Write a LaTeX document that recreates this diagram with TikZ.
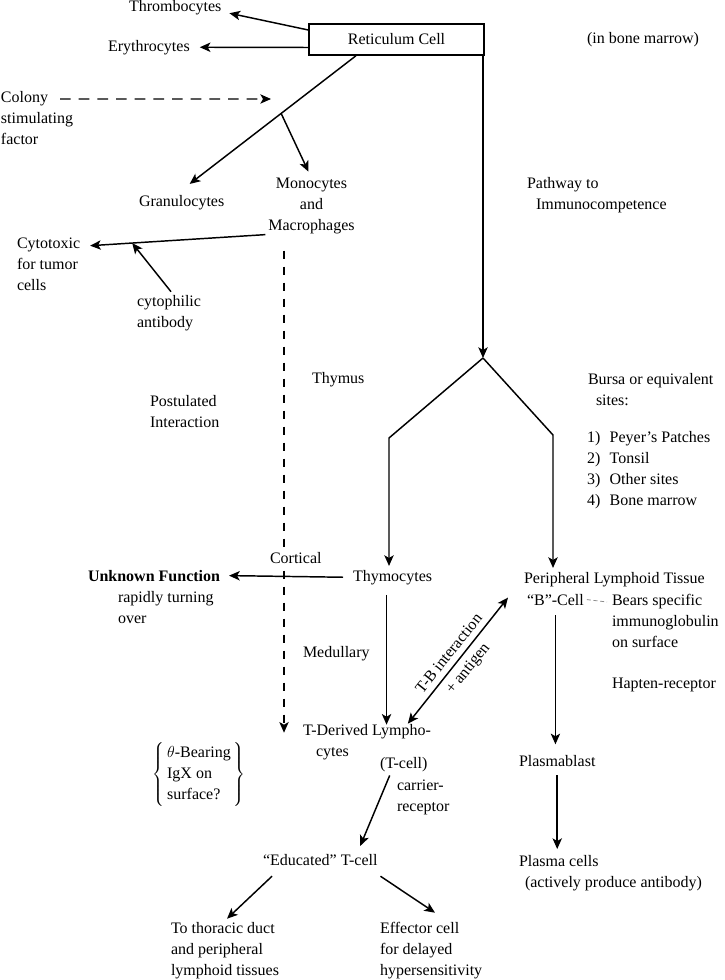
\documentclass[tikz,border=0pt]{standalone}
\usepackage{fontspec}
\setmainfont{Liberation Serif}
\usetikzlibrary{arrows.meta}
\tikzset{
  txt/.style   = {inner sep=0pt, outer sep=0pt, align=left},
  ctr/.style   = {inner sep=0pt, outer sep=0pt, align=center},
  cellbox/.style = {draw, line width=1.1pt, minimum width=131.25pt, minimum height=23.25pt, inner sep=0pt},
  ar/.style    = {-{Stealth[length=8pt,width=7pt,inset=2pt]}, line width=1.1pt},
  dar/.style   = {ar, line width=0.9pt, dash pattern=on 6pt off 6pt},
  cdar/.style  = {ar, line width=0.9pt, dash pattern=on 8pt off 6pt},
  dbl/.style   = {{Stealth[length=8pt,width=7pt,inset=2pt]}-{Stealth[length=8pt,width=7pt,inset=2pt]}, line width=1.1pt},
  tie/.style   = {line width=0.6pt, draw=black!45, dash pattern=on 3pt off 2pt},
}
\begin{document}
\begin{tikzpicture}[x=0.75pt, y=-0.75pt, font=\fontsize{12pt}{15.75pt}\selectfont]
  \useasboundingbox (0,0) rectangle (724,980);

  % bone marrow
  \node[cellbox] (reti) at (396.5,39.5) {Reticulum Cell};
  \node[txt, anchor=mid west] (thromb) at (129,8) {Thrombocytes};
  \node[txt, anchor=mid west] (ery) at (108,48) {Erythrocytes};
  \node[txt, anchor=mid west] (marrow) at (587,40) {(in bone marrow)};
  \node[txt, anchor=north west] (csf) at (1,91.7) {Colony\\stimulating\\factor};
  \node[txt, anchor=mid west] (gran) at (139,203) {Granulocytes};
  \node[ctr, anchor=north] (mono) at (311.5,177.7) {Monocytes\\and\\Macrophages};
  \node[txt, anchor=north west] (cyto) at (17,237.7) {Cytotoxic\\for tumor\\cells};
  \node[txt, anchor=north west] (cytab) at (137,295.7) {cytophilic\\antibody};
  \node[txt, anchor=north west] (pathw) at (527,177.7) {Pathway to\\\hspace*{6.75pt}Immunocompetence};

  \draw[ar] ([shift={(0,-9.5)}]reti.west) -- ([shift={(8,6)}]thromb.east);
  \draw[ar] ([shift={(0,8)}]reti.west) -- ([shift={(10,0)}]ery.east);
  \draw[ar] ([shift={(-40.5,0)}]reti.south) -- coordinate[pos=0.45] (br) ([shift={(8,-11)}]gran.north);
  \draw[ar] (br) -- ([shift={(-3,-6)}]mono.north);
  \coordinate (csfend) at (271,99);
  \draw[cdar] ([shift={(59,7.3)}]csf.north west) -- (csfend);
  \draw[ar] ([shift={(-3,1)}]mono.south west) -- coordinate[pos=0.76] (cyin) ([shift={(10,8)}]cyto.north east);
  \draw[ar] ([shift={(34,-4)}]cytab.north west) -- (cyin);

  % thymus and bursa
  \node[txt, anchor=mid west] (thymus) at (312,380) {Thymus};
  \node[txt, anchor=north west] (postul) at (150,395.7) {Postulated\\Interaction};
  \node[txt, anchor=north west] (bursa) at (588,373.7) {Bursa or equivalent\\\hspace*{6pt}sites:};
  \node[txt, anchor=north west] (sites) at (587,431.7)
    {1)\hspace{7pt}Peyer's Patches\\2)\hspace{7pt}Tonsil\\3)\hspace{7pt}Other sites\\4)\hspace{7pt}Bone marrow};
  \coordinate (split) at (483,358);
  \draw[ar] (split |- reti.south) -- (split);

  \node[txt, anchor=mid west] (thymo) at (353,578) {Thymocytes};
  \node[txt, anchor=mid west] (unknown) at (88,578) {\textbf{Unknown Function}};
  \node[txt, anchor=north west] (rapid) at (118,591.7) {rapidly turning\\over};
  \node[txt, anchor=mid west] (medul) at (303,654) {Medullary};
  \node[txt, anchor=north west] (tderiv) at (303,724.7) {T-Derived Lympho-\\\hspace*{9.75pt}cytes};
  \node[txt, anchor=mid west] (tcell) at (380,765) {(T-cell)};
  \node[txt, anchor=north west] (carrier) at (397,779.7) {carrier-\\receptor};
  \node[txt, anchor=mid west] (educ) at (263,862) {``Educated'' T-cell};
  \node[txt, anchor=north west] (thorac) at (171,922.7) {To thoracic duct\\and peripheral\\lymphoid tissues};
  \node[txt, anchor=north west] (effect) at (380,922.7) {Effector cell\\for delayed\\hypersensitivity};
  \node[txt] (theta) at (199,774)
    {$\left\{\,\begin{tabular}{@{}l@{}}$\theta$-Bearing\\IgX on\\surface?\end{tabular}\,\right\}$};

  \node[txt, anchor=mid west] (periph) at (524,580) {Peripheral Lymphoid Tissue};
  \node[txt, anchor=mid west] (bcell) at (527,602) {``B''-Cell};
  \node[txt, anchor=north west] (bears) at (612,594.7) {Bears specific\\immunoglobulin\\on surface};
  \node[txt, anchor=mid west] (hapten) at (612,685) {Hapten-receptor};
  \node[txt, anchor=mid west] (plasmab) at (519,763) {Plasmablast};
  \node[txt, anchor=north west] (plasmac) at (519,855.7) {Plasma cells\\\hspace*{4.5pt}(actively produce antibody)};

  \draw[ar, shorten >=3pt] (split) -- ++(-94,80) coordinate (kneeL) -- (kneeL |- thymo.north);
  \draw[ar, shorten >=3pt] (split) -- ++(70,77) coordinate (kneeR) -- (kneeR |- periph.north);
  \draw[ar] ([shift={(-10,0)}]thymo.west) -- ([shift={(9,0)}]unknown.east);
  \draw[ar] ([shift={(-6,25)}]thymo.north) coordinate (tdn) -- (tdn |- tderiv.north);
  \draw[dar] ([shift={(-27.5,17)}]mono.south) -- ([shift={(-19,8)}]tderiv.north west);
  % label sits on a white patch over the dashed line
  \node[txt, anchor=mid west, fill=white, inner ysep=1pt] (cortical) at (270,560) {Cortical};
  \draw[dbl] ([shift={(-23,-1)}]tderiv.north east) --
    node[sloped, above=1pt] (tbint) {T-B interaction}
    node[sloped, below=1pt] (tbag) {+ antigen} ([shift={(-19,-2)}]bcell.west);
  \draw[ar] ([shift={(-14,4)}]tcell.south) -- ([shift={(40,-8)}]educ.north);
  \draw[ar] ([shift={(9,11)}]educ.south west) -- ([shift={(56,-4)}]thorac.north west);
  \draw[ar] ([shift={(3,11)}]educ.south east) -- ([shift={(55,-10)}]effect.north west);
  \draw[tie] ([shift={(3,0)}]bcell.east) -- ([shift={(-5,7.3)}]bears.north west);
  \draw[ar, shorten >=8pt] ([shift={(0,10)}]bcell.south) coordinate (bdn) -- (bdn |- plasmab.north);
  \draw[ar, shorten >=5pt] ([shift={(0,9)}]plasmab.south) coordinate (pdn) -- (pdn |- plasmac.north);
\end{tikzpicture}
\end{document}
